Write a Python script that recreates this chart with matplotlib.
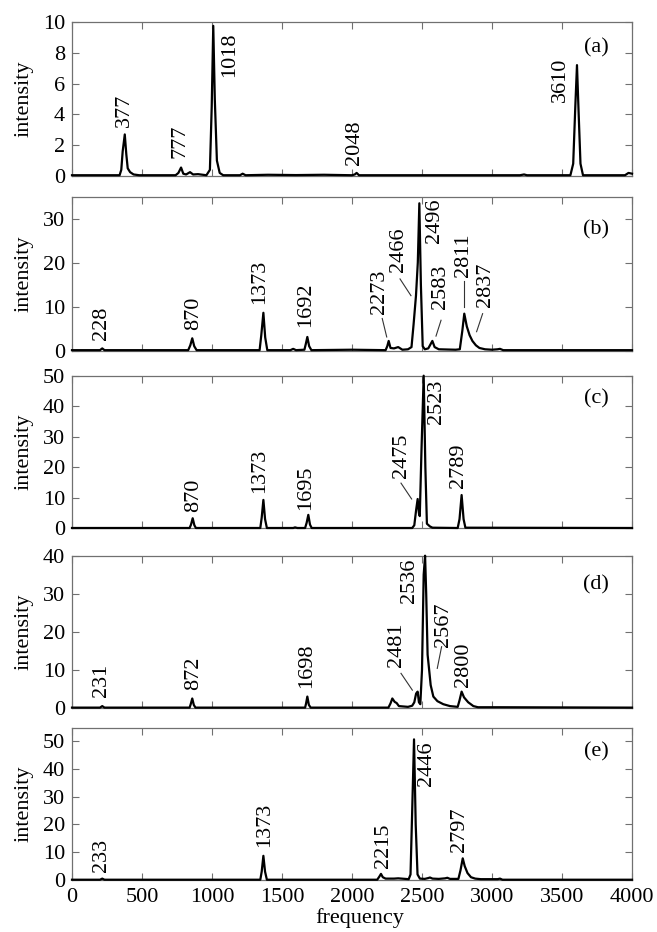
# -*- coding: utf-8 -*-
import numpy as np
import matplotlib.pyplot as plt

plt.rcParams['font.family'] = 'serif'
plt.rcParams['font.serif'] = ['Liberation Serif', 'DejaVu Serif']
plt.rcParams['font.size'] = 16

# ---- スペクトル (a)
freqA = [0, 340, 352, 362, 377, 388, 398, 415, 440, 480, 740, 760, 779, 795, 815,
         843, 865, 900, 960, 985, 998, 1009, 1020, 1035, 1055, 1080, 1200, 1219,
         1240, 1400, 1600, 1800, 2000, 2020, 2033, 2050, 2600, 3200, 3229, 3250,
         3560, 3580, 3595, 3607, 3618, 3632, 3650, 3950, 3975, 4000]
intA = [0.05, 0.05, 0.4, 1.6, 2.7, 1.4, 0.5, 0.25, 0.1, 0.05, 0.05, 0.2, 0.55, 0.15, 0.1,
        0.25, 0.1, 0.12, 0.05, 0.4, 4.5, 9.75, 5.0, 1.0, 0.2, 0.05, 0.05, 0.15,
        0.05, 0.08, 0.06, 0.08, 0.05, 0.1, 0.2, 0.05, 0.05, 0.05, 0.1, 0.05,
        0.05, 0.8, 4.5, 7.2, 4.3, 0.8, 0.05, 0.05, 0.2, 0.15]

# ---- スペクトル (b)
freqB = [0, 200, 216, 232, 830, 845, 859, 873, 890, 1340, 1352, 1367, 1380, 1395,
         1560, 1580, 1600, 1660, 1670, 1681, 1694, 1710, 2000, 2240, 2252, 2262,
         2275, 2300, 2330, 2360, 2400, 2425, 2440, 2457, 2470, 2481, 2492, 2505,
         2520, 2545, 2562, 2574, 2590, 2620, 2740, 2770, 2788, 2802, 2820, 2840,
         2860, 2885, 2910, 2950, 3000, 3040, 3057, 3080, 4000]
intB = [0.1, 0.1, 0.5, 0.1, 0.1, 1.2, 2.8, 1.0, 0.1, 0.1, 3.5, 8.6, 3.0, 0.1,
        0.1, 0.4, 0.1, 0.2, 1.5, 3.1, 1.0, 0.1, 0.2, 0.1, 1.0, 2.2,
        0.6, 0.5, 0.8, 0.2, 0.3, 0.8, 6.0, 12.5, 20.0, 33.5, 15.0, 1.0,
        0.3, 0.5, 1.5, 2.2, 0.8, 0.3, 0.2, 0.3, 4.5, 8.4, 5.5, 3.5,
        2.2, 1.2, 0.6, 0.3, 0.2, 0.3, 0.4, 0.1, 0.1]

# ---- スペクトル (c)
freqC = [0, 840, 850, 862, 874, 885, 1345, 1355, 1367, 1379, 1392, 1580, 1593,
         1610, 1665, 1676, 1688, 1700, 1712, 2430, 2445, 2458, 2469, 2478, 2484,
         2496, 2512, 2524, 2535, 2557, 2575, 2755, 2768, 2783, 2797, 2810, 4000]
intC = [0.1, 0.1, 1.2, 3.3, 1.0, 0.1, 0.1, 3.5, 9.3, 3.0, 0.1, 0.1, 0.3,
        0.1, 0.1, 1.8, 4.4, 1.2, 0.1, 0.1, 1.0, 6.0, 9.6, 5.0, 4.0,
        25.0, 50.0, 20.0, 1.5, 0.6, 0.2, 0.1, 3.0, 10.9, 3.0, 0.2, 0.1]

# ---- スペクトル (d)
freqD = [0, 200, 216, 232, 840, 848, 859, 870, 882, 1665, 1672, 1681, 1692, 1705,
         2260, 2275, 2288, 2305, 2319, 2335, 2400, 2430, 2445, 2458, 2469, 2478,
         2488, 2500, 2512, 2522, 2530, 2540, 2550, 2562, 2581, 2610, 2652, 2700,
         2755, 2768, 2783, 2800, 2830, 2867, 2900, 3050, 4000]
intD = [0.1, 0.1, 0.5, 0.1, 0.1, 1.0, 2.5, 0.8, 0.1, 0.1, 1.2, 3.0, 0.8, 0.1,
        0.1, 1.2, 2.5, 1.6, 1.3, 0.5, 0.3, 0.6, 1.5, 3.8, 4.3, 1.5,
        1.0, 10.0, 35.0, 40.0, 30.0, 14.0, 10.4, 6.0, 3.0, 1.8, 1.0, 0.5,
        0.3, 2.0, 4.3, 2.8, 1.5, 0.5, 0.2, 0.2, 0.1]

# ---- スペクトル (e)
freqE = [0, 200, 216, 232, 1345, 1355, 1367, 1379, 1392, 2180, 2195, 2207, 2220,
         2240, 2300, 2330, 2405, 2418, 2430, 2443, 2455, 2468, 2485, 2520, 2545,
         2557, 2575, 2620, 2665, 2681, 2700, 2760, 2775, 2791, 2805, 2825, 2850,
         2880, 2920, 3000, 3040, 3057, 3075, 4000]
intE = [0.1, 0.1, 0.5, 0.1, 0.1, 3.0, 8.7, 3.0, 0.1, 0.1, 1.2, 2.2, 1.0,
        0.5, 0.5, 0.6, 0.3, 2.0, 25.0, 50.6, 20.0, 2.0, 0.5, 0.4, 0.7,
        0.9, 0.5, 0.4, 0.6, 0.8, 0.4, 0.4, 3.5, 7.8, 5.0, 2.5, 1.0,
        0.5, 0.3, 0.3, 0.3, 0.5, 0.1, 0.1]

# ---- ピークのラベル (文字, x, y, 縦位置)
textA = ["377", "777", "1018", "2048", "3610"]
textAx = [377, 771, 1129, 2021, 3486]
textAy = [3.2, 1.15, 9.3, 0.7, 7.66]
textAva = ["bottom", "bottom", "top", "bottom", "top"]

textB = ["228", "870", "1373", "1692", "2273", "2466", "2496", "2583", "2811", "2837"]
textBx = [212, 866, 1343, 1671, 2195, 2331, 2586, 2629, 2795, 2957]
textBy = [2.5, 4.6, 10.7, 5.4, 8.4, 17.8, 34.6, 9.5, 16.7, 9.9]
textBva = ["bottom", "bottom", "bottom", "bottom", "bottom", "bottom", "top",
           "bottom", "bottom", "bottom"]

textC = ["870", "1373", "1695", "2475", "2523", "2789"]
textCx = [871, 1343, 1671, 2350, 2605, 2759]
textCy = [5.5, 11.5, 6.0, 16.4, 48.6, 13.1]
textCva = ["bottom", "bottom", "bottom", "bottom", "top", "bottom"]

textD = ["231", "872", "1698", "2481", "2536", "2567", "2800"]
textDx = [212, 866, 1676, 2319, 2414, 2652, 2795]
textDy = [3.0, 4.7, 5.2, 10.8, 39.3, 16.1, 5.6]
textDva = ["bottom", "bottom", "bottom", "bottom", "top", "bottom", "bottom"]

textE = ["233", "1373", "2215", "2446", "2797"]
textEx = [212, 1379, 2224, 2533, 2771]
textEy = [3.0, 12.0, 4.2, 49.7, 10.2]
textEva = ["bottom", "bottom", "bottom", "top", "bottom"]

# ---- 引き出し線
lineBx = [[2216, 2248], [2343, 2421], [2636, 2600], [2802, 2802], [2933, 2890]]
lineBy = [[7.3, 3.1], [16.3, 12.5], [6.9, 3.3], [15.9, 9.9], [8.4, 4.3]]
lineCx = [[2350, 2426]]
lineCy = [[14.8, 9.6]]
lineDx = [[2350, 2431], [2640, 2609]]
lineDy = [[9.1, 4.7], [16.1, 10.4]]
lineEx = []
lineEy = []
lineAx = []
lineAy = []

panelName = ["(a)", "(b)", "(c)", "(d)", "(e)"]
panelY = [8.3, 27.4, 42.3, 32.3, 46.1]
yMax = [10, 35, 50, 40, 54.8]
yTicks = [[0, 2, 4, 6, 8, 10], [0, 10, 20, 30], [0, 10, 20, 30, 40, 50],
          [0, 10, 20, 30, 40], [0, 10, 20, 30, 40, 50]]
xTicks = [0, 500, 1000, 1500, 2000, 2500, 3000, 3500, 4000]

freqs = [freqA, freqB, freqC, freqD, freqE]
ints = [intA, intB, intC, intD, intE]
texts = [(textA, textAx, textAy, textAva), (textB, textBx, textBy, textBva),
         (textC, textCx, textCy, textCva), (textD, textDx, textDy, textDva),
         (textE, textEx, textEy, textEva)]
lines = [(lineAx, lineAy), (lineBx, lineBy), (lineCx, lineCy),
         (lineDx, lineDy), (lineEx, lineEy)]

# 各パネルの上端と下端 (ピクセル)
W, H = 657, 932
pxTop = [22, 196.7, 375.7, 555.7, 727.7]
pxBot = [176, 350.6, 528.3, 708, 880]
pxLeft, pxRight = 72, 632

fig = plt.figure(figsize=(W / 100, H / 100), dpi=100)
spineCol = '#707070'

for i in range(5):
    ax = fig.add_axes([pxLeft / W, 1 - pxBot[i] / H,
                       (pxRight - pxLeft) / W, (pxBot[i] - pxTop[i]) / H])
    ax.plot(freqs[i], ints[i], color='black', lw=1.6, clip_on=False, zorder=3)

    t, tx, ty, tva = texts[i]
    for j in range(len(t)):
        ax.text(tx[j], ty[j], t[j], rotation=90, ha='center', va=tva[j], fontsize=16)
    lx, ly = lines[i]
    for j in range(len(lx)):
        ax.plot(lx[j], ly[j], color='#333333', lw=0.8)
    ax.text(3745, panelY[i], panelName[i], ha='center', va='center', fontsize=16)

    ax.set_xlim(0, 4000)
    ax.set_ylim(0, yMax[i])
    ax.set_xticks(xTicks)
    ax.set_yticks(yTicks[i])
    ax.tick_params(direction='in', top=True, right=True, length=5, width=0.8,
                   color=spineCol, labelsize=16)
    ax.tick_params(axis='y', pad=5)
    ax.tick_params(axis='x', pad=6)
    for s in ax.spines.values():
        s.set_color(spineCol)
        s.set_linewidth(0.9)
    ax.set_ylabel("intensity", fontsize=16)
    ax.yaxis.set_label_coords(-0.069, 0.5)
    if i < 4:
        ax.set_xticklabels([])
    else:
        ax.set_xlabel("frequency", fontsize=16)
        ax.xaxis.set_label_coords(0.514, -0.185)

plt.savefig("out.png", dpi=100)
